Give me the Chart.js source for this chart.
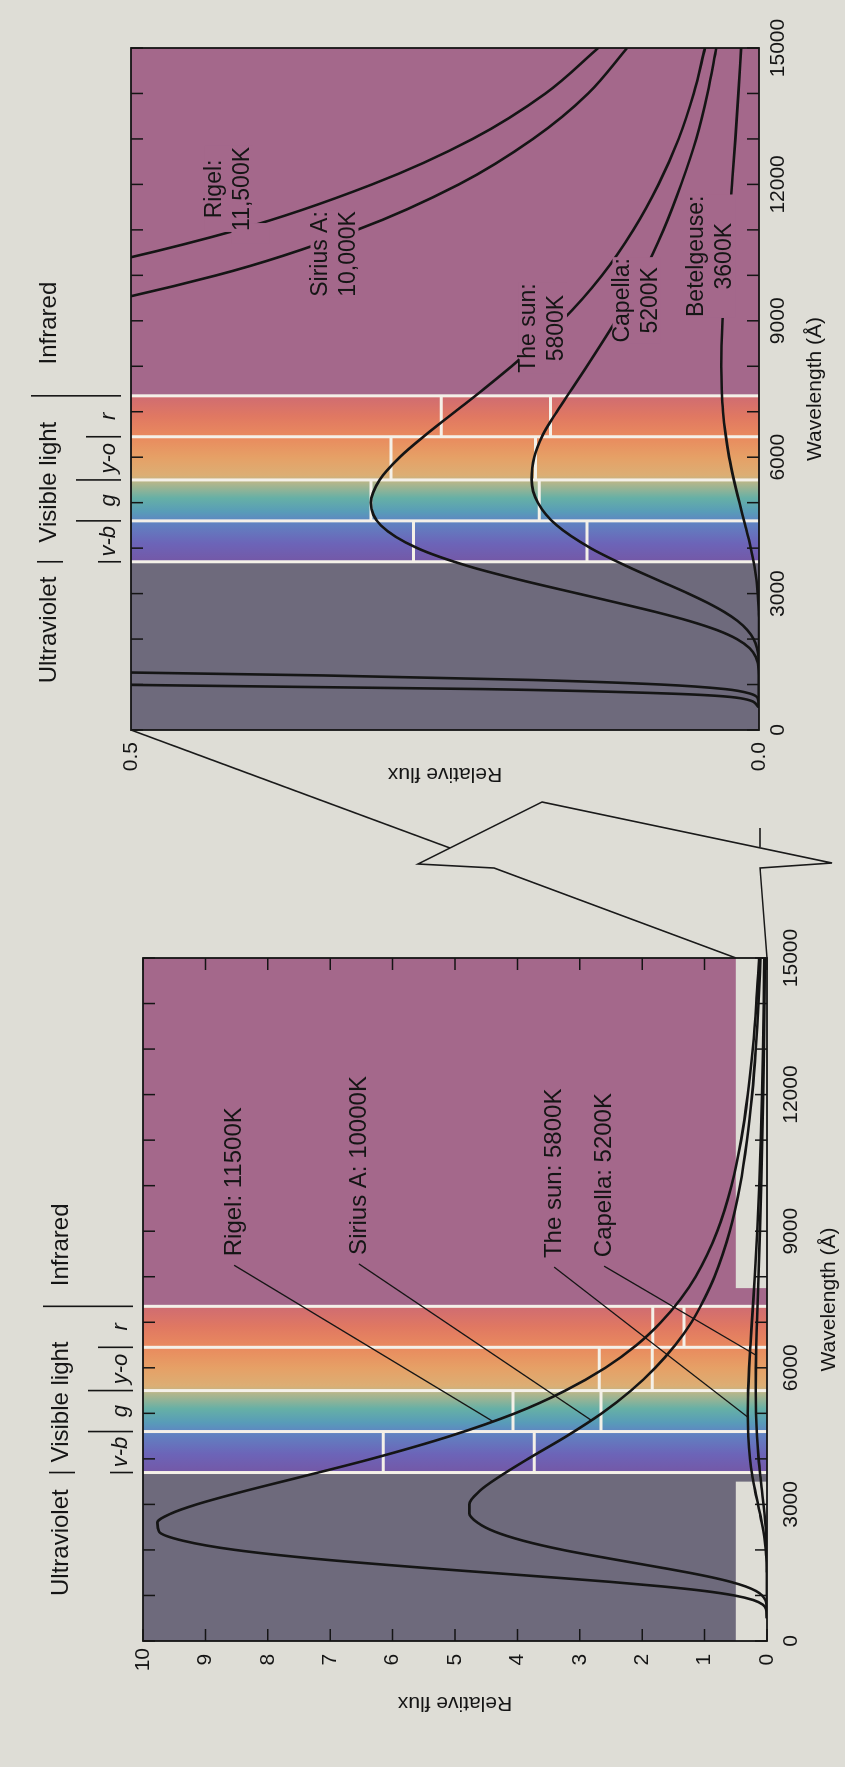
<!DOCTYPE html>
<html>
<head>
<meta charset="utf-8">
<title>Star spectra</title>
<script src="https://cdn.jsdelivr.net/npm/chart.js@4.4.1/dist/chart.umd.min.js"></script>
<style>
  html, body { margin: 0; padding: 0; }
  body { width: 845px; height: 1767px; overflow: hidden; background: #deddd6; position: relative; }
  /* the printed figure is turned on its side, so draw it landscape and rotate */
  #stage { position: absolute; left: 0; top: 0; width: 1767px; height: 845px;
           transform-origin: 0 0; transform: translate(0, 1767px) rotate(-90deg); }
  #full { position: absolute; left: 0; top: 0; }
  #zoom { position: absolute; left: 900px; top: 0; }
  #callout { position: absolute; left: 0; top: 0; pointer-events: none; }
</style>
</head>
<body>
<div id="stage">
  <canvas id="full" width="860" height="845"></canvas>
  <canvas id="zoom" width="867" height="845"></canvas>
  <svg id="callout" width="1767" height="845">
    <g fill="none" stroke="#1a1a1a" stroke-width="1.6">
      <polyline points="1037,131 919,450"/>
      <polyline points="809,736 899,494 903,418 965,542 904,832 899,760 809,767"/>
      <polyline points="939,760 920,760"/>
    </g>
  </svg>
</div>
<script>
// wavelength in angstrom
const wavelengths = [500, 700, 800, 900, 1000, 1100, 1200, 1300, 1400, 1500, 1600, 1800, 2000, 2200, 2400, 2600, 2800, 3000,
  3300, 3600, 4000, 4500, 5000, 5500, 6000, 6500, 7000, 7500, 8000, 9000, 10000, 11000, 12000, 13000, 14000, 15000];

const rigelFlux = [0, 0.015, 0.070, 0.220, 0.523, 1.01, 1.69, 2.52, 3.47, 4.45, 5.43, 7.19, 8.52, 9.35, 9.74, 9.77, 9.55, 9.14,
  8.35, 7.48, 6.34, 5.08, 4.04, 3.23, 2.59, 2.09, 1.70, 1.39, 1.145, 0.796, 0.568, 0.415, 0.308, 0.228, 0.170, 0.128];
const siriusFlux = [0, 0.001, 0.007, 0.027, 0.078, 0.180, 0.347, 0.585, 0.890, 1.25, 1.65, 2.48, 3.27, 3.90, 4.36, 4.64, 4.77, 4.77,
  4.60, 4.30, 3.83, 3.21, 2.65, 2.18, 1.79, 1.47, 1.21, 1.01, 0.842, 0.597, 0.432, 0.320, 0.239, 0.180, 0.136, 0.105];
const sunFlux = [0, 0, 0, 0, 0, 0, 0, 0.0001, 0.0005, 0.0012, 0.0024, 0.0075, 0.0176, 0.0337, 0.0558, 0.0828, 0.113, 0.144,
  0.190, 0.231, 0.272, 0.301, 0.309, 0.302, 0.286, 0.265, 0.242, 0.219, 0.197, 0.157, 0.125, 0.100, 0.080, 0.064, 0.052, 0.043];
const capellaFlux = [0, 0, 0, 0, 0, 0, 0, 0, 0, 0.0002, 0.0004, 0.0015, 0.0042, 0.0093, 0.0171, 0.0279, 0.0411, 0.0562,
  0.0808, 0.105, 0.134, 0.161, 0.176, 0.181, 0.179, 0.172, 0.161, 0.149, 0.137, 0.114, 0.093, 0.076, 0.062, 0.050, 0.041, 0.034];
const betelgeuseFlux = [0, 0, 0, 0, 0, 0, 0, 0, 0, 0, 0, 0, 0, 0, 0, 0.0002, 0.0005, 0.0010,
  0.0020, 0.0036, 0.0065, 0.0109, 0.0156, 0.0200, 0.0238, 0.0266, 0.0286, 0.0296, 0.0300, 0.0291, 0.0270, 0.0243, 0.0215, 0.0188, 0.0164, 0.0142];

// colour bands of visible light and the mean flux of a star inside each band
const bandEdges = [3700, 4600, 5500, 6450, 7350];
const bandNames = ['v-b', 'g', 'y-o', 'r'];
const rigelBand = [6.15, 4.07, 2.69, 1.83];
const siriusBand = [3.73, 2.66, 1.84, 1.33];
const sunBand = [0.275, 0.309, 0.293, 0.253];
const capellaBand = [0.137, 0.175, 0.178, 0.166];

const regionNames = ['Ultraviolet', 'Visible light', 'Infrared'];
const fullRegionCentres = [2160, 5250, 8700];
const zoomRegionCentres = [2200, 5450, 8950];
const wavelengthLabels = [0, 3000, 6000, 9000, 12000, 15000];

const FONT = '"Liberation Sans", Arial, Helvetica, sans-serif';
const UV = '#6e6a7c', IR = '#a4688b', PAPER = '#deddd6', INK = '#151515';
const spectrum = [[3700, '#7458a6'], [4100, '#6c64b8'], [4600, '#5f86c2'], [4800, '#589cb8'], [5100, '#66b0a6'],
  [5450, '#b6b68a'], [5600, '#dcae74'], [6000, '#e6a066'], [6450, '#e98a5e'], [6900, '#e07862'], [7350, '#cf6c72']];

Chart.defaults.font.family = FONT;
Chart.defaults.color = INK;

function curve(label, ys) {
  return {
    label, data: wavelengths.map((x, i) => ({ x, y: ys[i] })),
    borderColor: INK, borderWidth: 2.6, pointRadius: 0, fill: false,
    cubicInterpolationMode: 'monotone', order: 0
  };
}

function bandSteps(label, avg) {
  const data = [];
  avg.forEach((a, i) => data.push({ x: bandEdges[i], y: a }, { x: bandEdges[i + 1], y: a }, { x: bandEdges[i + 1], y: null }));
  return { label, data, borderColor: '#f4f0e8', borderWidth: 3, pointRadius: 0, tension: 0, order: 1 };
}

function wavelengthAxis(tickPad, titleBottom, height) {
  return {
    type: 'linear', min: 0, max: 15000,
    grid: { display: false, drawTicks: false }, border: { display: false },
    ticks: {
      stepSize: 1000, autoSkip: false, maxRotation: 0, padding: tickPad, font: { size: 21 },
      callback: v => wavelengthLabels.includes(v) ? String(v) : ''
    },
    title: { display: true, text: 'Wavelength (Å)', font: { size: 21 }, padding: { top: 0, bottom: titleBottom } },
    afterFit: s => { s.height = height; }
  };
}

function fluxAxis(max, step, tickPad, titleTop, width, fmt) {
  return {
    min: 0, max,
    grid: { display: false, drawTicks: false }, border: { display: false },
    ticks: { stepSize: step, padding: tickPad, crossAlign: 'center', font: { size: 21 }, callback: fmt },
    title: { display: true, text: 'Relative flux', font: { size: 21 }, padding: { top: titleTop, bottom: 0 } },
    afterFit: s => { s.width = width; }
  };
}

const spectrumPlugin = {
  id: 'spectrum',
  beforeDatasetsDraw(chart, args, o) {
    const { ctx, chartArea: a, scales: { x, y } } = chart;
    const px = v => x.getPixelForValue(v);
    const lo = px(bandEdges[0]), hi = px(bandEdges[bandEdges.length - 1]);
    ctx.save();
    ctx.fillStyle = UV;
    ctx.fillRect(a.left, a.top, lo - a.left, a.height);
    const g = ctx.createLinearGradient(lo, 0, hi, 0);
    spectrum.forEach(([w, c]) => g.addColorStop((w - bandEdges[0]) / (bandEdges[4] - bandEdges[0]), c));
    ctx.fillStyle = g;
    ctx.fillRect(lo, a.top, hi - lo, a.height);
    ctx.fillStyle = IR;
    ctx.fillRect(hi, a.top, a.right - hi, a.height);
    if (o.inset) {
      // the strip that is blown up in the other panel
      const yt = y.getPixelForValue(o.inset.flux);
      ctx.fillStyle = PAPER;
      ctx.fillRect(a.left, yt, px(o.inset.from) - a.left, a.bottom - yt);
      ctx.fillRect(px(o.inset.to), yt, a.right - px(o.inset.to), a.bottom - yt);
    }
    ctx.strokeStyle = '#f4f0e8';
    ctx.lineWidth = 3;
    ctx.beginPath();
    bandEdges.forEach(w => { ctx.moveTo(px(w), a.top); ctx.lineTo(px(w), a.bottom); });
    ctx.stroke();
    ctx.restore();
  },
  afterDatasetsDraw(chart, args, o) {
    const { ctx, chartArea: a, scales: { x, y } } = chart;
    ctx.save();
    ctx.fillStyle = INK;
    ctx.strokeStyle = INK;
    ctx.textBaseline = 'middle';
    if (o.leaders) {
      ctx.font = `24px ${FONT}`;
      ctx.textAlign = 'left';
      ctx.lineWidth = 1.3;
      o.leaders.forEach(l => {
        const tx = x.getPixelForValue(l.at[0]), ty = y.getPixelForValue(l.at[1]);
        ctx.fillText(l.text, tx, ty);
        ctx.beginPath();
        ctx.moveTo(tx - 9, ty);
        ctx.lineTo(x.getPixelForValue(l.to[0]), y.getPixelForValue(l.to[1]));
        ctx.stroke();
      });
    }
    if (o.inline) {
      // labels sit in a break of their curve
      ctx.font = `23px ${FONT}`;
      ctx.textAlign = 'center';
      o.inline.forEach(l => {
        const cx = x.getPixelForValue(l.at[0]), cy = y.getPixelForValue(l.at[1]);
        const w = Math.max(...l.lines.map(t => ctx.measureText(t).width)) + 2;
        ctx.fillStyle = IR;
        ctx.fillRect(cx - w / 2, cy - 24, w, 48);
        if (l.gap) {
          const [w0, w1, f0, f1] = l.gap;
          const gx = x.getPixelForValue(w0), gy = y.getPixelForValue(f1);
          ctx.fillRect(gx, gy, x.getPixelForValue(w1) - gx, y.getPixelForValue(f0) - gy);
        }
        ctx.fillStyle = INK;
        l.lines.forEach((t, k) => ctx.fillText(t, cx, cy + (k - (l.lines.length - 1) / 2) * 28));
      });
    }
    // inward ticks on every side, then the frame
    ctx.lineWidth = 1.5;
    ctx.beginPath();
    x.ticks.forEach(t => {
      const p = x.getPixelForValue(t.value);
      ctx.moveTo(p, a.bottom); ctx.lineTo(p, a.bottom - 12);
      ctx.moveTo(p, a.top); ctx.lineTo(p, a.top + 12);
    });
    if (o.yTicks) {
      y.ticks.forEach(t => {
        const p = y.getPixelForValue(t.value);
        ctx.moveTo(a.left, p); ctx.lineTo(a.left + 12, p);
        ctx.moveTo(a.right, p); ctx.lineTo(a.right - 12, p);
      });
    }
    ctx.stroke();
    ctx.lineWidth = 1.8;
    ctx.strokeRect(a.left, a.top, a.width, a.height);
    ctx.restore();
  },
  afterDraw(chart, args, o) {
    const { ctx, chartArea: a, scales: { x } } = chart;
    const px = v => x.getPixelForValue(v);
    const top = a.top;
    ctx.save();
    ctx.fillStyle = INK;
    ctx.strokeStyle = INK;
    ctx.textAlign = 'center';
    ctx.textBaseline = 'middle';
    ctx.font = `24px ${FONT}`;
    regionNames.forEach((t, i) => ctx.fillText(t, px(o.regions[i]), top - 82));
    ctx.font = `italic 22px ${FONT}`;
    bandNames.forEach((t, i) => ctx.fillText(t, px((bandEdges[i] + bandEdges[i + 1]) / 2), top - 22));
    ctx.lineWidth = 1.6;
    ctx.beginPath();
    const sep = (w, from, to) => { ctx.moveTo(px(w), top - from); ctx.lineTo(px(w), top - to); };
    sep(bandEdges[0], 94, 68); sep(bandEdges[0], 33, 10);
    sep(bandEdges[1], 55, 10); sep(bandEdges[2], 55, 10); sep(bandEdges[3], 45, 10);
    sep(bandEdges[4], 100, 10);
    ctx.stroke();
    ctx.restore();
  }
};

const fullLabels = [
  { text: 'Rigel: 11500K', at: [8450, 8.54], to: [4830, 4.40] },
  { text: 'Sirius A: 10000K', at: [8480, 6.54], to: [4850, 2.82] },
  { text: 'The sun: 5800K', at: [8410, 3.41], to: [4920, 0.31] },
  { text: 'Capella: 5200K', at: [8430, 2.61], to: [6280, 0.18] }
];

const zoomLabels = [
  { lines: ['Rigel:', '11,500K'], at: [11900, 0.422], gap: [10700, 11150, 0.39, 0.42] },
  { lines: ['Sirius A:', '10,000K'], at: [10470, 0.338] },
  { lines: ['The sun:', '5800K'], at: [8840, 0.172] },
  { lines: ['Capella:', '5200K'], at: [9450, 0.0975] },
  { lines: ['Betelgeuse:', '3600K'], at: [10420, 0.0382] }
];

new Chart(document.getElementById('full'), {
  type: 'line',
  data: {
    datasets: [
      curve('Rigel', rigelFlux), curve('Sirius A', siriusFlux), curve('The sun', sunFlux), curve('Capella', capellaFlux),
      bandSteps('Rigel bands', rigelBand), bandSteps('Sirius bands', siriusBand)
    ]
  },
  options: {
    responsive: false, animation: false, events: [],
    layout: { padding: { top: 143, right: 51, left: 0, bottom: 0 } },
    scales: {
      x: wavelengthAxis(12, 3, 78),
      y: fluxAxis(10, 1, 7, 52, 126, v => String(v))
    },
    plugins: {
      legend: { display: false }, tooltip: { enabled: false },
      spectrum: { inset: { flux: 0.5, from: 3500, to: 7750 }, yTicks: true, leaders: fullLabels, regions: fullRegionCentres }
    }
  },
  plugins: [spectrumPlugin]
});

new Chart(document.getElementById('zoom'), {
  type: 'line',
  data: {
    datasets: [
      curve('Rigel', rigelFlux), curve('Sirius A', siriusFlux), curve('The sun', sunFlux),
      curve('Capella', capellaFlux), curve('Betelgeuse', betelgeuseFlux),
      bandSteps('Sun bands', sunBand), bandSteps('Capella bands', capellaBand)
    ]
  },
  options: {
    responsive: false, animation: false, events: [],
    layout: { padding: { top: 131, right: 48, left: 0, bottom: 0 } },
    scales: {
      x: wavelengthAxis(7, 17, 86),
      y: fluxAxis(0.5, 0.5, 12, 81, 137, v => v.toFixed(1))
    },
    plugins: {
      legend: { display: false }, tooltip: { enabled: false },
      spectrum: { yTicks: false, inline: zoomLabels, regions: zoomRegionCentres }
    }
  },
  plugins: [spectrumPlugin]
});
</script>
</body>
</html>
